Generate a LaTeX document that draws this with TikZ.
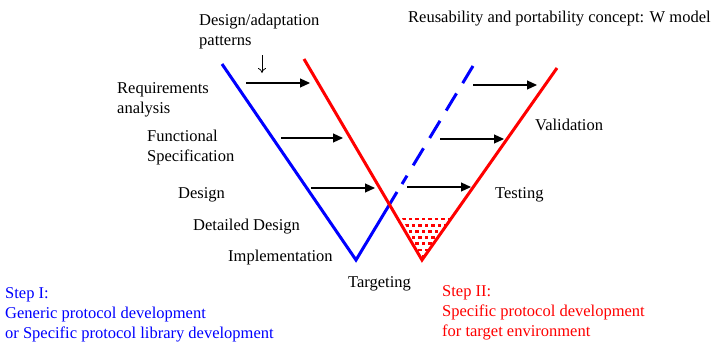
\documentclass[tikz,border=0pt]{standalone}
\usepackage{fontspec}
\setmainfont{Liberation Serif}
\usepackage{tikz}
\usetikzlibrary{arrows.meta}
\definecolor{azul}{HTML}{0000FF}
\definecolor{rojo}{HTML}{FF0000}

\begin{document}
\begin{tikzpicture}[x=1pt,y=-1pt,
  lbl/.style={anchor=base west,inner sep=0pt,align=left,font=\fontsize{16.5}{20}\selectfont},
  vline/.style={line width=3pt},
  flow/.style={line width=1.2pt,-{Triangle[length=10pt,width=9pt]}}]
\useasboundingbox (0,0) rectangle (716,343);

% vertices of the two V's
\coordinate (bTop) at (222,64);
\coordinate (bBot) at (356,260);
\coordinate (bMid) at (397,192);
\coordinate (bDash) at (402,184);
\coordinate (bEnd) at (473,66);
\coordinate (rTop) at (304,59);
\coordinate (rBot) at (422,260);
\coordinate (rEnd) at (557,68);

% dotted area at the bottom of the red V
\begin{scope}
\clip (401,216) -- (454,216) -- (422,259) -- cycle;
\foreach \r in {0,...,6}
  \foreach \c in {0,...,8}
    \fill[rojo] ({402+\c*6.5+mod(\r,2)*3.25},{217.5+\r*6.2}) rectangle ++(3.6,2.8);
\end{scope}

\draw[vline,azul] (bTop) -- (bBot) -- (bMid);
\draw[vline,azul,dash pattern=on 20pt off 12pt] (bEnd) -- (bDash);
\draw[vline,rojo] (rTop) -- (rBot) -- (rEnd);

% arrows
\coordinate (a1) at (246,83);  \coordinate (a1e) at (310,83);
\coordinate (a2) at (281,138); \coordinate (a2e) at (343,138);
\coordinate (a3) at (311,188); \coordinate (a3e) at (375,188);
\coordinate (a4) at (407,187); \coordinate (a4e) at (471,187);
\coordinate (a5) at (440,139); \coordinate (a5e) at (504,139);
\coordinate (a6) at (473,85);  \coordinate (a6e) at (537,85);
\foreach \i in {1,...,6}
  \draw[flow] (a\i) -- (a\i e);

% labels (multi-line ones sit on their last line)
\node[lbl] (pat) at (199,45) {Design/adaptation\\patterns};
\coordinate (p1) at (262,55); \coordinate (p2) at (262,73);
\draw[line width=0.8pt,-{To[length=5pt,width=8pt]}] (p1) -- (p2);
\node[lbl] (wmod) at (408,22) {Reusability and portability concept: W model};
\node[lbl] (req) at (117,113) {Requirements\\analysis};
\node[lbl] (func) at (147,161) {Functional\\Specification};
\node[lbl] (des) at (178,198) {Design};
\node[lbl] (det) at (193,230) {Detailed Design};
\node[lbl] (impl) at (228,261) {Implementation};
\node[lbl] (targ) at (348,287) {Targeting};
\node[lbl] (val) at (535,130) {Validation};
\node[lbl] (test) at (495,198) {Testing};
\node[lbl,text=azul] (step1) at (5,338) {Step I:\\Generic protocol development\\or Specific protocol library development};
\node[lbl,text=rojo] (step2) at (442,336) {Step II:\\Specific protocol development\\for target environment};
\end{tikzpicture}
\end{document}
